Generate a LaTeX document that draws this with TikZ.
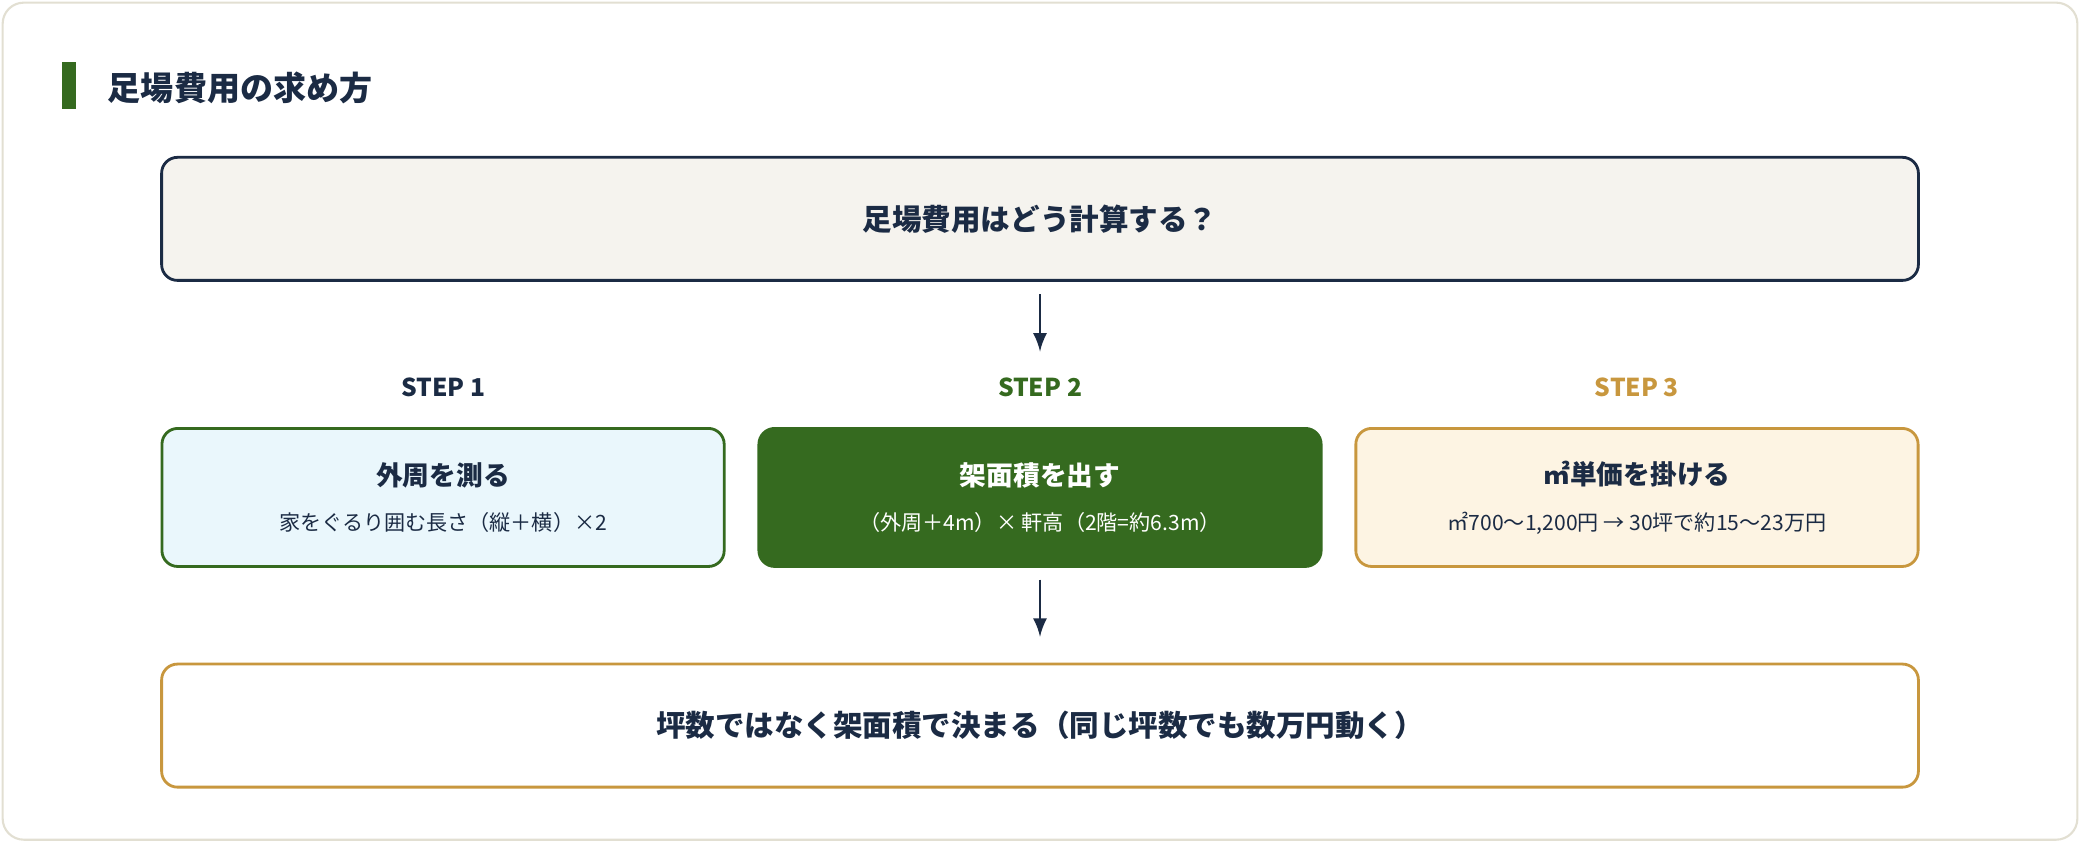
\documentclass[tikz,border=0pt]{standalone}
\usepackage{fontspec}
\setmainfont{Noto Sans CJK JP}
\usetikzlibrary{positioning}
\definecolor{navy}{HTML}{1B2B44}
\definecolor{leaf}{HTML}{356A1F}
\definecolor{gold}{HTML}{C8973E}
\definecolor{frame}{HTML}{E2DFD2}
\definecolor{paper}{HTML}{F5F3EE}
\definecolor{sky}{HTML}{EAF7FC}
\definecolor{cream}{HTML}{FDF4E3}
\tikzset{
  box/.style={rounded corners=4.5pt,line width=0.8pt,minimum height=1.23cm},
  wide/.style={box,minimum width=17.56cm,font=\bfseries\fontsize{8.4}{10}\selectfont,text=navy},
  stepbox/.style={box,minimum width=5.62cm,minimum height=1.38cm,align=center,text=navy},
  steplabel/.style={font=\bfseries\fontsize{7}{8}\selectfont},
  flow/.style={-latex,line width=0.8pt,draw=navy},
}
\newcommand{\boxtext}[2]{{\bfseries\fontsize{7.6}{9}\selectfont #1}\\[1pt]{\fontsize{6}{7}\selectfont #2}}
\begin{document}
\begin{tikzpicture}[x=0.013265cm,y=-0.013265cm]
\useasboundingbox (0,0) rectangle (1568,635);
\draw[frame,fill=white,rounded corners=6pt,line width=0.6pt] (2,2) rectangle (1566,633);
\fill[leaf] (47,47) rectangle (57,82);
\node[anchor=west,text=navy,font=\bfseries\fontsize{9.4}{11}\selectfont] (title) at (72,66) {足場費用の求め方};

\node[wide,draw=navy,fill=paper] (ask) at (784,165) {足場費用はどう計算する？};

\node[stepbox,draw=leaf,fill=sky] (s1) at (334,375) {\boxtext{外周を測る}{家をぐるり囲む長さ（縦＋横）×2}};
\node[stepbox,draw=leaf,fill=leaf,text=white] (s2) at (784,375) {\boxtext{架面積を出す}{（外周＋4m）× 軒高（2階=約6.3m）}};
\node[stepbox,draw=gold,fill=cream] (s3) at (1234,375) {\boxtext{㎡単価を掛ける}{㎡700〜1,200円 → 30坪で約15〜23万円}};

\node[steplabel,text=navy,above=0.18cm of s1] (l1) {STEP 1};
\node[steplabel,text=leaf,above=0.18cm of s2] (l2) {STEP 2};
\node[steplabel,text=gold,above=0.18cm of s3] (l3) {STEP 3};

\node[wide,draw=gold,fill=white] (result) at (784,547) {坪数ではなく架面積で決まる（同じ坪数でも数万円動く）};

\coordinate (a1) at (784,222);
\coordinate (a2) at (784,265);
\coordinate (b1) at (784,437);
\coordinate (b2) at (784,480);
\draw[flow] (a1) -- (a2);
\draw[flow] (b1) -- (b2);
\end{tikzpicture}
\end{document}
